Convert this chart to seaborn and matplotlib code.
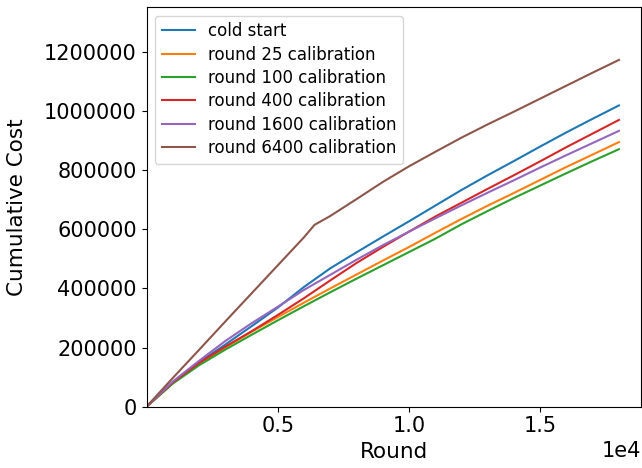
import numpy as np
import pandas as pd
import matplotlib
matplotlib.use("Agg")
import matplotlib.pyplot as plt
import seaborn as sns
from matplotlib.ticker import FuncFormatter

rounds = [0, 1000, 2000, 3000, 4000, 5000, 6000, 7000, 8000, 9000, 10000,
          11000, 12000, 13000, 14000, 15000, 16000, 17000, 18000]

cold_start = [0, 80e3, 150e3, 210e3, 272e3, 335e3, 405e3, 468e3, 522e3, 575e3, 627e3,
              680e3, 733e3, 783e3, 831e3, 880e3, 928e3, 974e3, 1019e3]
cal_25 = [0, 80e3, 145e3, 200e3, 253e3, 303e3, 352e3, 400e3, 447e3, 494e3, 540e3,
          588e3, 635e3, 680e3, 723e3, 767e3, 811e3, 853e3, 895e3]
cal_100 = [0, 78e3, 140e3, 193e3, 243e3, 292e3, 340e3, 387e3, 433e3, 478e3, 523e3,
           568e3, 617e3, 662e3, 706e3, 748e3, 790e3, 831e3, 871e3]
cal_400 = [0, 82e3, 148e3, 203e3, 255e3, 310e3, 367e3, 427e3, 486e3, 540e3, 592e3,
           643e3, 690e3, 737e3, 783e3, 830e3, 878e3, 924e3, 970e3]
cal_1600 = [0, 85e3, 155e3, 222e3, 282e3, 338e3, 395e3, 446e3, 497e3, 546e3, 592e3,
            637e3, 681e3, 724e3, 766e3, 809e3, 851e3, 892e3, 933e3]
rounds_6400 = [0, 1000, 2000, 3000, 4000, 5000, 6000, 6400, 7000, 8000, 9000, 10000,
               11000, 12000, 13000, 14000, 15000, 16000, 17000, 18000]
cal_6400 = [0, 97e3, 192e3, 288e3, 383e3, 478e3, 573e3, 615e3, 645e3, 702e3, 760e3, 813e3,
            862e3, 910e3, 955e3, 998e3, 1042e3, 1086e3, 1130e3, 1173e3]

labels = ["cold start", "round 25 calibration", "round 100 calibration",
          "round 400 calibration", "round 1600 calibration", "round 6400 calibration"]
series = [cold_start, cal_25, cal_100, cal_400, cal_1600, cal_6400]
xs = [rounds, rounds, rounds, rounds, rounds, rounds_6400]

frames = []
for lab, x, y in zip(labels, xs, series):
    frames.append(pd.DataFrame({"Round": x, "Cumulative Cost": y, "Setting": lab}))
df = pd.concat(frames, ignore_index=True)

fig = plt.figure(figsize=(6.42, 4.68), dpi=100)
ax = fig.add_axes([0.2282, 0.131, 0.998 - 0.2282, 0.9844 - 0.131])
sns.lineplot(data=df, x="Round", y="Cumulative Cost", hue="Setting", hue_order=labels,
             palette=sns.color_palette("tab10", 6), ax=ax, linewidth=1.5)

ax.set_xlim(0, 18830)
ax.set_ylim(0, 1351000)
ax.set_xticks([5000, 10000, 15000])
ax.set_yticks([0, 200000, 400000, 600000, 800000, 1000000, 1200000])
ax.ticklabel_format(axis="x", style="sci", scilimits=(0, 0))
ax.yaxis.set_major_formatter(FuncFormatter(lambda v, p: f"{int(v)}"))
ax.tick_params(labelsize=15)
ax.xaxis.get_offset_text().set_fontsize(15)
ax.set_xlabel("Round", fontsize=15.5)
ax.set_ylabel("Cumulative Cost", fontsize=15.5)
ax.yaxis.set_label_coords(-0.242, 0.5)
ax.legend(loc="upper left", fontsize=12, title=None, labelspacing=0.32)

fig.savefig("out.png", dpi=100)
